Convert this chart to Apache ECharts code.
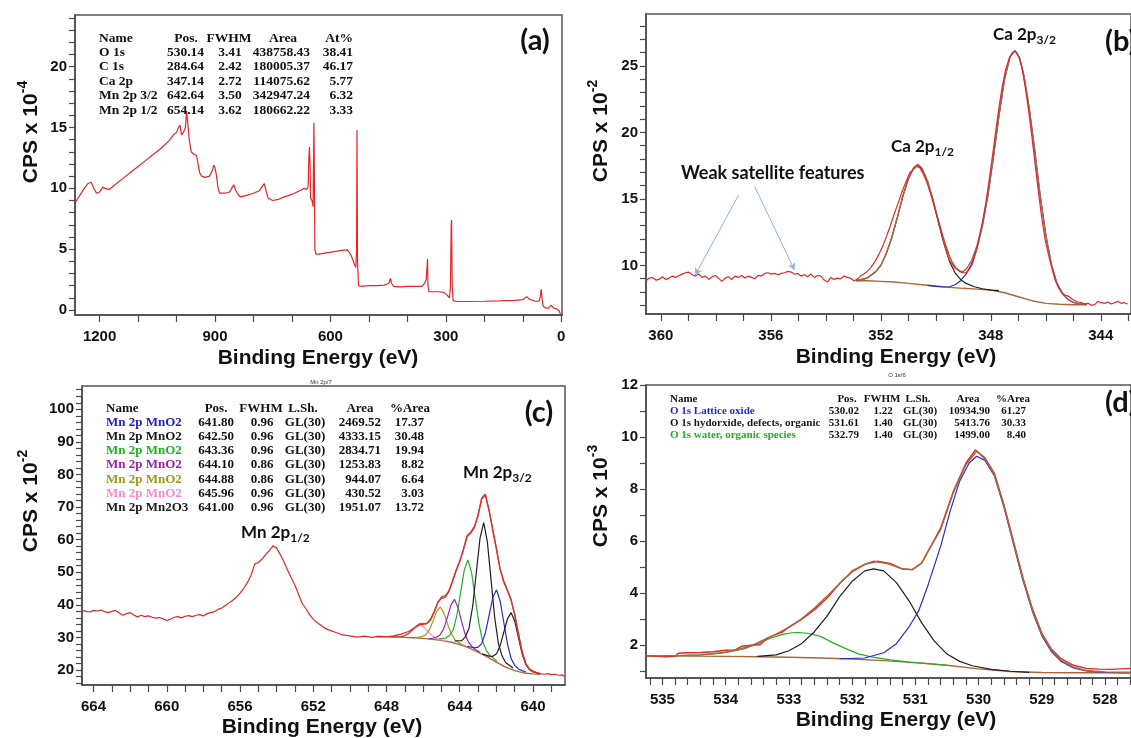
<!DOCTYPE html>
<html><head><meta charset="utf-8">
<script src="https://cdn.jsdelivr.net/npm/echarts@6.0.0/dist/echarts.min.js"></script>
<style>html,body{margin:0;padding:0;background:#fff;}#c{width:1131px;height:738px;}</style>
</head><body><div id="c"></div>
<script>
// ---------------- DATA ----------------
// (a) survey spectrum [binding energy eV, CPS x 1e-4]
const surveyData = [[1262,8.9],[1250,9.5],[1240,10.0],[1230,10.4],[1222,10.5],[1215,10.0],[1208,9.6],[1200,9.7],[1192,10.1],[1186,10.0],[1175,9.9],[1160,10.3],[1140,10.8],[1120,11.3],[1100,11.8],[1080,12.3],[1060,12.8],[1040,13.3],[1020,13.9],[1008,14.4],[1000,14.6],[995,15.0],[991,15.2],[987,14.4],[982,14.6],[977,15.0],[974,16.3],[971,15.4],[967,14.0],[962,13.0],[955,12.8],[948,12.7],[944,12.0],[940,11.3],[935,11.0],[925,10.9],[915,11.0],[908,11.4],[903,11.9],[900,11.7],[896,11.0],[892,10.0],[888,9.6],[875,9.6],[862,9.7],[855,10.1],[851,10.3],[847,9.9],[842,9.6],[835,9.3],[820,9.4],[800,9.6],[785,9.8],[776,10.2],[772,10.4],[768,9.9],[762,9.2],[750,9.0],[735,9.1],[720,9.3],[700,9.5],[680,9.8],[668,10.0],[662,9.9],[658,10.1],[656,12.5],[654.5,13.4],[653,12.0],[651.5,9.2],[648,9.0],[645,8.5],[643,15.4],[641.5,10.0],[640.5,5.0],[638,4.6],[630,4.6],[610,4.7],[590,4.8],[570,4.9],[556,4.95],[550,4.7],[545,4.4],[538,3.8],[534,3.5],[532,5.0],[531,14.8],[529.5,4.0],[527,2.0],[520,1.95],[500,2.0],[480,2.0],[460,2.05],[448,2.2],[444,2.6],[441,2.2],[436,1.95],[420,1.9],[400,1.95],[380,1.95],[362,1.95],[355,2.2],[351,2.5],[349,2.4],[347.5,4.2],[346.5,2.0],[344,1.5],[340,1.4],[320,1.5],[305,1.45],[296,1.2],[291,1.0],[288,1.8],[286,7.0],[285,7.4],[283.5,2.0],[281,0.75],[270,0.7],[240,0.7],[200,0.72],[160,0.75],[120,0.8],[100,0.85],[90,1.1],[86,1.25],[83,0.9],[78,0.75],[65,0.7],[57,0.75],[54,1.2],[52,1.7],[50,1.0],[47,0.3],[40,0.15],[33,0.15],[28,0.2],[26,0.4],[24,0.3],[20,0.15],[12,0.1],[5,-0.1],[2,-0.3]];

// (b) Ca 2p [eV, CPS x 1e-2]
const caRaw = [[360.54,8.85],[360.42,9.05],[360.30,9.10],[360.18,8.90],[360.06,8.95],[359.94,9.15],[359.82,8.95],[359.70,9.05],[359.58,9.20],[359.46,9.10],[359.34,9.25],[359.22,9.35],[359.10,9.45],[358.98,9.50],[358.86,9.30],[358.74,9.20],[358.62,9.35],[358.50,9.10],[358.38,9.20],[358.26,8.95],[358.14,9.15],[358.02,9.25],[357.90,9.05],[357.78,8.80],[357.66,9.05],[357.54,9.15],[357.42,8.95],[357.30,9.20],[357.18,9.10],[357.06,9.25],[356.94,9.05],[356.82,9.20],[356.70,9.10],[356.58,9.00],[356.46,9.25],[356.34,9.20],[356.22,9.40],[356.10,9.45],[355.98,9.35],[355.86,9.40],[355.74,9.30],[355.62,9.40],[355.50,9.45],[355.38,9.55],[355.26,9.50],[355.14,9.35],[355.02,9.40],[354.90,9.20],[354.78,9.30],[354.66,9.15],[354.54,9.35],[354.42,9.10],[354.30,9.25],[354.18,9.20],[354.06,8.90],[353.94,8.75],[353.82,9.10],[353.70,8.95],[353.58,9.05],[353.46,9.00],[353.34,9.20],[353.22,9.10],[353.10,9.05],[352.98,8.85],[352.86,8.95],[352.74,9.20],[352.62,9.35],[352.50,9.55],[352.38,9.80],[352.26,10.15],[352.14,10.55],[352.02,11.05],[351.90,11.60],[351.78,12.25],[351.66,12.95],[351.54,13.70],[351.42,14.40],[351.30,15.10],[351.18,15.80],[351.06,16.40],[350.94,17.00],[350.82,17.20],[350.70,17.45],[350.58,17.35],[350.46,16.90],[350.34,16.35],[350.22,15.60],[350.10,14.75],[349.98,13.90],[349.86,13.05],[349.74,12.20],[349.62,11.40],[349.50,10.70],[349.38,10.15],[349.26,9.80],[349.14,9.55],[349.02,9.45],[348.90,9.45],[348.78,9.70],[348.66,10.15],[348.54,11.00],[348.42,12.10],[348.30,13.30],[348.18,14.70],[348.06,16.40],[347.94,18.20],[347.82,20.10],[347.70,21.90],[347.58,23.50],[347.46,24.70],[347.34,25.50],[347.22,26.00],[347.10,26.10],[346.98,25.70],[346.86,24.80],[346.74,23.30],[346.62,21.60],[346.50,19.60],[346.38,17.50],[346.26,15.40],[346.14,13.50],[346.02,11.90],[345.90,10.80],[345.78,9.80],[345.66,8.90],[345.54,8.35],[345.42,7.95],[345.30,7.75],[345.18,7.70],[345.06,7.50],[344.94,7.35],[344.82,7.25],[344.70,7.20],[344.58,7.10],[344.46,7.15],[344.34,7.00],[344.22,7.05],[344.10,7.30],[343.98,7.20],[343.86,7.15],[343.74,7.25],[343.62,7.10],[343.50,7.20],[343.38,7.30],[343.26,7.15],[343.14,7.20],[343.02,7.10]];
const caBg = [[352.9,8.85],[352.5,8.85],[352.0,8.8],[351.5,8.75],[351.0,8.65],[350.5,8.55],[350.0,8.45],[349.5,8.35],[349.0,8.28],[348.5,8.22],[348.0,8.15],[347.5,7.95],[347.0,7.65],[346.5,7.35],[346.0,7.15],[345.5,7.08],[345.0,7.05],[344.5,7.05]];
const ca2p12 = [[352.9,8.85],[352.5,9.05],[352.2,9.5],[352.0,10.0],[351.8,10.9],[351.6,12.1],[351.4,13.6],[351.2,15.2],[351.0,16.5],[350.8,17.35],[350.65,17.55],[350.5,17.25],[350.3,16.3],[350.1,14.9],[349.9,13.2],[349.7,11.6],[349.5,10.3],[349.3,9.45],[349.1,8.95],[348.9,8.65],[348.6,8.4],[348.3,8.25],[348.0,8.15],[347.7,8.1]];
const ca2p32 = [[350.3,8.5],[350.0,8.42],[349.7,8.38],[349.5,8.4],[349.3,8.55],[349.1,8.85],[348.9,9.35],[348.7,10.1],[348.5,11.3],[348.3,13.0],[348.1,15.3],[347.9,18.2],[347.7,21.3],[347.5,24.0],[347.3,25.7],[347.12,26.15],[346.95,25.6],[346.8,24.3],[346.6,21.8],[346.4,18.6],[346.2,15.2],[346.0,12.3],[345.8,10.1],[345.6,8.7],[345.4,7.9],[345.2,7.45],[345.0,7.22],[344.8,7.12],[344.5,7.07]];
const caEnv = [[352.9,8.85],[352.5,9.05],[352.2,9.5],[352.0,10.0],[351.8,10.9],[351.6,12.1],[351.4,13.6],[351.2,15.2],[351.0,16.5],[350.8,17.35],[350.65,17.6],[350.5,17.3],[350.3,16.35],[350.1,14.95],[349.9,13.3],[349.7,11.7],[349.5,10.4],[349.3,9.8],[349.1,9.55],[349.0,9.55],[348.9,9.7],[348.7,10.35],[348.5,11.5],[348.3,13.1],[348.1,15.4],[347.9,18.25],[347.7,21.3],[347.5,24.0],[347.3,25.7],[347.12,26.15],[346.95,25.6],[346.8,24.3],[346.6,21.8],[346.4,18.6],[346.2,15.2],[346.0,12.3],[345.8,10.1],[345.6,8.7],[345.4,7.9],[345.2,7.45],[345.0,7.22],[344.8,7.12],[344.5,7.07]];
const satArrows = [[[357.17,15.3],[358.75,9.28]],[[356.58,15.9],[355.14,9.65]]];

// (c) Mn 2p [eV, CPS x 1e-2]
const mnRaw = [[664.6,38.2],[664.4,38.0],[664.2,37.8],[664.0,38.3],[663.8,38.1],[663.6,38.4],[663.4,37.9],[663.2,37.6],[663.0,38.0],[662.8,38.3],[662.6,37.5],[662.4,36.8],[662.2,37.3],[662.0,37.6],[661.8,36.9],[661.6,36.3],[661.4,36.8],[661.2,36.4],[661.0,36.6],[660.8,36.2],[660.6,35.9],[660.4,36.1],[660.2,35.7],[660.0,35.2],[659.8,35.6],[659.6,36.2],[659.4,36.4],[659.2,36.0],[659.0,36.5],[658.8,36.7],[658.6,36.4],[658.4,36.8],[658.2,37.0],[658.0,36.6],[657.8,37.3],[657.6,37.6],[657.4,37.9],[657.2,38.6],[657.0,39.0],[656.8,39.8],[656.6,40.6],[656.4,41.4],[656.2,42.3],[656.0,43.6],[655.8,45.0],[655.6,46.8],[655.4,49.0],[655.2,52.5],[655.0,53.0],[654.8,54.0],[654.6,55.4],[654.4,56.6],[654.2,58.1],[654.0,57.4],[653.8,55.4],[653.6,53.2],[653.4,50.6],[653.2,48.3],[653.0,46.0],[652.8,43.2],[652.6,40.4],[652.4,38.8],[652.2,37.0],[652.0,35.6],[651.8,34.6],[651.6,33.8],[651.4,33.0],[651.2,32.4],[651.0,32.0],[650.8,31.6],[650.6,31.2],[650.4,30.8],[650.2,30.6],[650.0,30.5],[649.6,30.1],[649.2,30.4],[648.8,30.0],[648.4,30.3],[648.0,30.2],[647.6,30.5],[647.2,31.0],[646.8,31.8],[646.4,33.2],[646.2,33.9],[646.0,34.0],[645.8,34.3],[645.6,35.6],[645.4,37.9],[645.2,40.8],[645.0,42.0],[644.8,42.3],[644.6,44.0],[644.4,47.0],[644.2,50.6],[644.0,53.2],[643.8,57.0],[643.6,61.2],[643.4,62.3],[643.2,64.0],[643.0,67.5],[642.8,72.8],[642.6,74.0],[642.4,69.2],[642.2,63.3],[642.0,57.5],[641.8,51.0],[641.6,47.4],[641.4,44.6],[641.2,41.5],[641.0,37.0],[640.8,31.5],[640.6,25.9],[640.4,22.0],[640.2,20.3],[640.0,19.7],[639.8,19.2],[639.6,18.9],[639.4,18.7],[639.2,18.9],[639.0,18.6],[638.8,18.7],[638.6,18.4],[638.4,18.5],[638.27,18.0]];
const mnBg = [[648.6,30.3],[648.0,30.2],[647.5,30.1],[647.0,30.0],[646.5,29.9],[646.0,29.7],[645.5,29.4],[645.0,29.1],[644.5,28.6],[644.0,27.8],[643.5,26.8],[643.0,25.5],[642.5,24.0],[642.0,22.4],[641.5,20.9],[641.0,19.8],[640.5,19.1],[640.0,18.8],[639.6,18.7]];
const mnEnv = [[648.0,30.25],[647.6,30.2],[647.2,30.3],[647.0,30.55],[646.8,31.2],[646.6,32.25],[646.4,33.3],[646.2,34.2],[646.0,34.3],[645.8,34.2],[645.6,35.2],[645.4,37.6],[645.2,40.6],[645.0,42.4],[644.8,42.8],[644.6,44.2],[644.4,47.3],[644.2,50.4],[644.0,53.4],[643.8,56.85],[643.6,60.9],[643.4,61.95],[643.2,63.7],[643.0,67.35],[642.8,72.5],[642.6,73.65],[642.4,68.95],[642.2,62.95],[642.0,57.15],[641.8,51.2],[641.6,47.1],[641.4,44.4],[641.2,41.7],[641.0,37.15],[640.8,31.2],[640.6,25.7],[640.4,22.1],[640.2,20.35],[640.0,19.55],[639.8,19.1],[639.6,18.9]];
const mnPink = [[647.55,30.15],[647.35,30.2],[647.15,30.3],[646.95,30.6],[646.75,31.3],[646.55,32.3],[646.35,33.3],[646.15,33.8],[645.95,33.15],[645.75,31.95],[645.55,30.8],[645.35,29.9],[645.15,29.5],[644.95,29.2],[644.75,28.9]];
const mnOlive = [[646.47,30.0],[646.27,30.1],[646.07,30.25],[645.87,30.75],[645.67,32.15],[645.47,34.85],[645.27,37.85],[645.07,39.4],[644.87,37.55],[644.67,34.2],[644.47,31.2],[644.27,29.4],[644.07,28.4],[643.87,27.8],[643.67,27.25]];
const mnPurple = [[645.69,29.65],[645.49,29.75],[645.29,30.0],[645.09,30.65],[644.89,32.45],[644.69,35.85],[644.49,39.75],[644.29,41.7],[644.09,39.2],[643.89,34.7],[643.69,30.7],[643.49,28.3],[643.29,26.95],[643.09,26.1],[642.89,25.35]];
const mnGreen = [[645.15,29.6],[644.75,29.8],[644.55,30.6],[644.35,32.4],[644.15,36.95],[643.95,43.8],[643.75,50.7],[643.55,53.8],[643.35,49.8],[643.15,42.0],[642.95,34.25],[642.75,28.8],[642.55,26.05],[642.35,24.5],[641.95,22.65]];
const mnBlack = [[644.29,28.9],[643.89,29.0],[643.69,30.15],[643.49,32.9],[643.29,39.65],[643.09,50.15],[642.89,60.5],[642.69,65.2],[642.49,59.3],[642.29,47.75],[642.09,36.1],[641.89,28.2],[641.69,24.35],[641.49,22.3],[641.09,20.6]];
const mnBlue = [[643.59,27.3],[643.19,26.8],[642.99,27.0],[642.79,28.2],[642.59,31.6],[642.39,36.95],[642.19,42.3],[641.99,44.6],[641.79,41.1],[641.59,34.5],[641.39,27.95],[641.19,23.5],[640.99,21.35],[640.79,20.3],[640.39,19.35]];
const mnMn2O3 = [[642.79,25.0],[642.39,24.25],[642.19,24.2],[641.99,25.0],[641.79,27.5],[641.59,31.6],[641.39,35.75],[641.19,37.6],[640.99,34.9],[640.79,29.9],[640.59,24.9],[640.39,21.65],[640.19,20.1],[639.99,19.4],[639.6,18.8]];

// (d) O 1s [eV, CPS x 1e-3]
const oRaw = [[535.26,1.58],[535.1,1.56],[534.95,1.55],[534.8,1.56],[534.75,1.68],[534.6,1.7],[534.4,1.71],[534.2,1.74],[534.0,1.8],[533.85,1.81],[533.75,1.95],[533.6,1.99],[533.45,2.02],[533.35,2.25],[533.25,2.36],[533.1,2.5],[533.0,2.68],[532.8,2.98],[532.6,3.35],[532.4,3.8],[532.2,4.35],[532.0,4.85],[531.8,5.1],[531.6,5.22],[531.4,5.14],[531.2,4.92],[531.05,4.9],[530.9,5.15],[530.8,5.6],[530.6,6.5],[530.4,7.9],[530.2,9.0],[530.05,9.5],[529.9,9.2],[529.75,8.6],[529.6,7.4],[529.45,6.0],[529.3,4.6],[529.15,3.4],[529.0,2.45],[528.85,1.85],[528.7,1.48],[528.5,1.22],[528.3,1.1],[528.1,1.07],[527.9,1.06],[527.6,1.1]];
const oBg = [[535.26,1.58],[534.5,1.57],[534.0,1.56],[533.5,1.55],[533.0,1.53],[532.5,1.5],[532.0,1.46],[531.5,1.4],[531.0,1.32],[530.5,1.22],[530.0,1.08],[529.5,0.98],[529.0,0.94],[528.5,0.93],[527.6,0.93]];
const oLattice = [[532.2,1.47],[531.8,1.5],[531.5,1.7],[531.3,2.05],[531.1,2.7],[530.95,3.3],[530.8,4.3],[530.6,5.8],[530.45,7.15],[530.3,8.3],[530.15,9.0],[530.03,9.26],[529.9,9.1],[529.75,8.5],[529.6,7.3],[529.45,5.9],[529.3,4.5],[529.15,3.3],[529.0,2.35],[528.85,1.75],[528.7,1.38],[528.5,1.12],[528.3,1.0],[528.0,0.95],[527.6,0.93]];
const oHydrox = [[533.5,1.56],[533.2,1.62],[533.0,1.78],[532.8,2.05],[532.6,2.5],[532.4,3.1],[532.2,3.85],[532.0,4.45],[531.8,4.85],[531.66,4.93],[531.5,4.85],[531.3,4.4],[531.1,3.7],[530.9,2.85],[530.7,2.15],[530.5,1.65],[530.3,1.37],[530.1,1.2],[529.8,1.06],[529.5,0.99],[529.2,0.95]];
const oWater = [[535.0,1.58],[534.7,1.59],[534.4,1.62],[534.1,1.68],[533.9,1.75],[533.7,1.86],[533.5,2.04],[533.3,2.25],[533.1,2.41],[532.95,2.47],[532.85,2.48],[532.7,2.45],[532.5,2.33],[532.3,2.08],[532.1,1.86],[531.9,1.66],[531.7,1.54],[531.4,1.43],[531.1,1.34],[530.8,1.28],[530.5,1.22]];
const oEnv = [[535.26,1.58],[534.8,1.59],[534.4,1.62],[534.0,1.72],[533.8,1.83],[533.6,1.97],[533.4,2.2],[533.2,2.42],[533.0,2.69],[532.8,3.01],[532.6,3.41],[532.4,3.87],[532.2,4.37],[532.0,4.81],[531.8,5.1],[531.66,5.22],[531.43,5.12],[531.2,4.92],[531.05,4.9],[530.9,5.15],[530.8,5.6],[530.6,6.44],[530.4,7.85],[530.2,8.94],[530.03,9.45],[529.9,9.15],[529.75,8.55],[529.6,7.35],[529.45,5.95],[529.3,4.55],[529.15,3.35],[529.0,2.4],[528.85,1.8],[528.7,1.42],[528.5,1.15],[528.3,1.02],[528.0,0.96],[527.6,0.95]];

// tick labels
const aXLabels = [0,300,600,900,1200], aYLabels = [0,5,10,15,20];
const bXLabels = [344,348,352,356,360], bYLabels = [10,15,20,25];
const cXLabels = [640,644,648,652,656,660,664], cYLabels = [20,30,40,50,60,70,80,90,100];
const dXLabels = [528,529,530,531,532,533,534,535], dYLabels = [2,4,6,8,10,12];

// tables
const tabAHead = ['Name','Pos.','FWHM','Area','At%'];
const tabARows = [['O 1s','530.14','3.41','438758.43','38.41'],['C 1s','284.64','2.42','180005.37','46.17'],['Ca 2p','347.14','2.72','114075.62','5.77'],['Mn 2p 3/2','642.64','3.50','342947.24','6.32'],['Mn 2p 1/2','654.14','3.62','180662.22','3.33']];
const tabCHead = ['Name','Pos.','FWHM','L.Sh.','Area','%Area'];
const tabCRows = [['Mn 2p MnO2','641.80','0.96','GL(30)','2469.52','17.37'],['Mn 2p MnO2','642.50','0.96','GL(30)','4333.15','30.48'],['Mn 2p MnO2','643.36','0.96','GL(30)','2834.71','19.94'],['Mn 2p MnO2','644.10','0.86','GL(30)','1253.83','8.82'],['Mn 2p MnO2','644.88','0.86','GL(30)','944.07','6.64'],['Mn 2p MnO2','645.96','0.96','GL(30)','430.52','3.03'],['Mn 2p Mn2O3','641.00','0.96','GL(30)','1951.07','13.72']];
const tabCColors = ['#2222c4','#1a1a1a','#1fb21f','#9a22a8','#9a9a14','#ff86c8','#1a1a1a'];
const tabDHead = ['Name','Pos.','FWHM','L.Sh.','Area','%Area'];
const tabDRows = [['O 1s Lattice oxide','530.02','1.22','GL(30)','10934.90','61.27'],['O 1s hydorxide, defects, organic','531.61','1.40','GL(30)','5413.76','30.33'],['O 1s water, organic species','532.79','1.40','GL(30)','1499.00','8.40']];
const tabDColors = ['#2a2ac8','#1a1a1a','#22b022'];

// ---------------- helpers ----------------
function steps(a, b, s) { const o = []; for (let v = a; v <= b + 1e-9; v += s) o.push(Math.round(v * 100) / 100); return o; }
const AXC = '#4a4a4a';
const LBL = {color:'#111', fontFamily:'Liberation Sans', fontWeight:'bold', fontSize:15, formatter: v => String(Math.round(v))};
function xAx(i, min, max, ticks, labels) {
  return {type:'value', gridIndex:i, min, max, inverse:true,
    axisLine:{show:true, onZero:false, lineStyle:{color:AXC, width:1.5}},
    axisTick:{show:true, inside:false, length:7, customValues:ticks, lineStyle:{color:AXC, width:1.2}},
    axisLabel:Object.assign({show:true, customValues:labels, margin:14}, LBL),
    splitLine:{show:false}, minorTick:{show:false}};
}
function yAx(i, min, max, ticks, labels) {
  return {type:'value', gridIndex:i, min, max,
    axisLine:{show:true, onZero:false, lineStyle:{color:AXC, width:1.5}},
    axisTick:{show:true, inside:false, length:6, customValues:ticks, lineStyle:{color:AXC, width:1.2}},
    axisLabel:Object.assign({show:true, customValues:labels, margin:8}, LBL),
    splitLine:{show:false}};
}
function ln(i, data, color, w, z, extra) {
  return Object.assign({type:'line', xAxisIndex:i, yAxisIndex:i, data, showSymbol:false, symbol:'none',
    lineStyle:{color, width:w}, itemStyle:{color}, z:z, silent:true, animation:false}, extra || {});
}
const RED = '#e3262b', BROWN = '#a8683c', BLK = '#1e1e1e', BLUE = '#2a2ad2', GREEN = '#23b023';

function T(x, y, text, o) {
  o = o || {};
  return {type:'text', x, y, silent:true, z:100, style:{text, fill:o.fill || '#111',
    fontFamily:o.ff || 'Liberation Serif', fontSize:o.fs || 13, fontWeight:o.fw || 'bold',
    align:o.al || 'left', textAlign:o.al || 'left', verticalAlign:'middle', textVerticalAlign:'middle'}};
}
function richT(x, y, main, sub, o) {
  const ff = o.ff, fs = o.fs, ss = o.ss, isSup = o.sup;
  return {type:'text', x, y, silent:true, z:100, rotation:o.rot || 0, style:{
    text:'{m|' + main + '}{s|' + sub + '}',
    align:o.al || 'left', textAlign:o.al || 'left', verticalAlign:'middle', textVerticalAlign:'middle',
    rich:{
      m:{fontFamily:ff, fontSize:fs, fontWeight:'bold', fill:'#111', color:'#111'},
      s:{fontFamily:ff, fontSize:ss, fontWeight:'bold', fill:'#111', color:'#111', padding: isSup ? [0,0,o.shift,0] : [o.shift,0,0,0]}
    }}};
}
function table(head, rows, colors, cfg) {
  const els = [];
  const ys = (r) => cfg.y0 + r * cfg.dy;
  els.push(T(cfg.nameX, ys(0), head[0], {fs:cfg.fs}));
  for (let c = 1; c < head.length; c++) {
    const h = cfg.head[c - 1];
    els.push(T(h[0], ys(0), head[c], {fs:cfg.fs, al:h[1]}));
  }
  rows.forEach((row, r) => {
    els.push(T(cfg.nameX, ys(r + 1), row[0], {fs:cfg.fs, fill:colors ? colors[r] : '#111'}));
    for (let c = 1; c < row.length; c++) {
      const v = cfg.vals[c - 1];
      els.push(T(v[0], ys(r + 1), row[c], {fs:cfg.fs, al:v[1]}));
    }
  });
  return els;
}

// ---------------- chart ----------------
const chart = echarts.init(document.getElementById('c'), null, {renderer:'canvas'});
const gridStyle = {show:true, borderColor:'#555', borderWidth:1.5, backgroundColor:'transparent'};
const option = {
  animation:false,
  backgroundColor:'#fff',
  grid:[
    Object.assign({left:75, top:15, width:487, height:300}, gridStyle),
    Object.assign({left:646, top:14, width:487, height:300}, gridStyle),
    Object.assign({left:82, top:386, width:483, height:299}, gridStyle),
    Object.assign({left:646, top:385, width:487, height:293}, gridStyle)
  ],
  xAxis:[
    xAx(0, -2, 1264, steps(0, 1200, 100), aXLabels),
    xAx(1, 342.9, 360.54, steps(343, 360, 1), bXLabels),
    xAx(2, 638.25, 664.63, steps(639, 664, 1), cXLabels),
    xAx(3, 527.59, 535.26, steps(527.6, 535.2, 0.2), dXLabels)
  ],
  yAxis:[
    yAx(0, -0.41, 24.25, steps(0, 24, 1), aYLabels),
    yAx(1, 6.35, 28.9, steps(7, 28, 1), bYLabels),
    yAx(2, 15.4, 107.15, steps(16, 106, 2), cYLabels),
    yAx(3, 0.73, 12.0, steps(1, 12, 1), dYLabels)
  ],
  series:[
    ln(0, surveyData, RED, 1.2, 5),
    ln(1, caBg, BROWN, 1.4, 3),
    ln(1, ca2p12, BLK, 1.2, 4),
    ln(1, ca2p32, BLUE, 1.2, 4),
    ln(1, caEnv, BROWN, 1.4, 5),
    ln(1, caRaw, RED, 1.2, 6, {markLine:{silent:true, animation:false, symbol:['none','arrow'], symbolSize:[6,7],
      label:{show:false}, lineStyle:{color:'#8db4e4', width:1, type:'solid'},
      data:satArrows.map(a => [{coord:a[0]}, {coord:a[1]}])}}),
    ln(2, mnBg, BROWN, 1.4, 3),
    ln(2, mnPink, '#ff88c8', 1.2, 4),
    ln(2, mnOlive, '#9c9c18', 1.2, 4),
    ln(2, mnPurple, '#a020b0', 1.2, 4),
    ln(2, mnGreen, GREEN, 1.2, 4),
    ln(2, mnBlack, BLK, 1.2, 4),
    ln(2, mnBlue, BLUE, 1.2, 4),
    ln(2, mnMn2O3, BLK, 1.2, 4),
    ln(2, mnEnv, BROWN, 1.4, 5),
    ln(2, mnRaw, RED, 1.2, 6),
    ln(3, oBg, BROWN, 1.4, 3),
    ln(3, oWater, GREEN, 1.2, 4),
    ln(3, oHydrox, BLK, 1.2, 4),
    ln(3, oLattice, BLUE, 1.2, 4),
    ln(3, oRaw, RED, 1.4, 5),
    ln(3, oEnv, BROWN, 1.4, 6)
  ],
  graphic:[].concat(
    [
      T(318, 358, 'Binding Energy (eV)', {ff:'Liberation Sans', fs:21, al:'center'}),
      T(896, 357, 'Binding Energy (eV)', {ff:'Liberation Sans', fs:21, al:'center'}),
      T(322, 727, 'Binding Energy (eV)', {ff:'Liberation Sans', fs:21, al:'center'}),
      T(896, 720, 'Binding Energy (eV)', {ff:'Liberation Sans', fs:21, al:'center'}),
      richT(31, 132, 'CPS x 10', '-4', {ff:'Liberation Sans', fs:21, ss:14, sup:true, shift:16, al:'center', rot:Math.PI/2}),
      richT(601, 131, 'CPS x 10', '-2', {ff:'Liberation Sans', fs:21, ss:14, sup:true, shift:16, al:'center', rot:Math.PI/2}),
      richT(31, 501, 'CPS x 10', '-2', {ff:'Liberation Sans', fs:21, ss:14, sup:true, shift:16, al:'center', rot:Math.PI/2}),
      richT(601, 496, 'CPS x 10', '-3', {ff:'Liberation Sans', fs:21, ss:14, sup:true, shift:16, al:'center', rot:Math.PI/2}),
      T(535, 41, '(a)', {ff:'Lato', fs:29, al:'center'}),
      T(1105, 42, '(b)', {ff:'Lato', fs:29}),
      T(539, 413, '(c)', {ff:'Lato', fs:29, al:'center'}),
      T(1105, 403, '(d)', {ff:'Lato', fs:29}),
      richT(993, 35, 'Ca 2p', '3/2', {ff:'Lato', fs:17, ss:12, shift:10}),
      richT(891, 147, 'Ca 2p', '1/2', {ff:'Lato', fs:17, ss:12, shift:10}),
      T(681, 173, 'Weak satellite features', {ff:'Lato', fs:18}),
      richT(463, 473, 'Mn 2p', '3/2', {ff:'Lato', fs:17, ss:12, shift:10}),
      richT(241, 533, 'Mn 2p', '1/2', {ff:'Lato', fs:17, ss:12, shift:10}),
      T(321, 382, 'Mn 2p/7', {ff:'Liberation Sans', fs:6, fw:'normal', al:'center', fill:'#333'}),
      T(897, 375, 'O 1s/6', {ff:'Liberation Sans', fs:6, fw:'normal', al:'center', fill:'#333'})
    ],
    table(tabAHead, tabARows, null, {y0:38.3, dy:14.35, fs:13.5, nameX:99,
      head:[[186,'center'],[229,'center'],[283,'center'],[353,'right']],
      vals:[[204,'right'],[230,'center'],[310,'right'],[353,'right']]}),
    table(tabCHead, tabCRows, tabCColors, {y0:408.5, dy:14.15, fs:13, nameX:106,
      head:[[216,'center'],[261,'center'],[303,'center'],[360,'center'],[410,'center']],
      vals:[[234,'right'],[262,'center'],[305,'center'],[381,'right'],[424,'right']]}),
    table(tabDHead, tabDRows, tabDColors, {y0:399.3, dy:11.9, fs:11, nameX:670,
      head:[[847,'center'],[882,'center'],[918,'center'],[968,'center'],[1013,'center']],
      vals:[[859,'right'],[883,'center'],[920,'center'],[990,'right'],[1026,'right']]})
  )
};
chart.setOption(option);
</script></body></html>
